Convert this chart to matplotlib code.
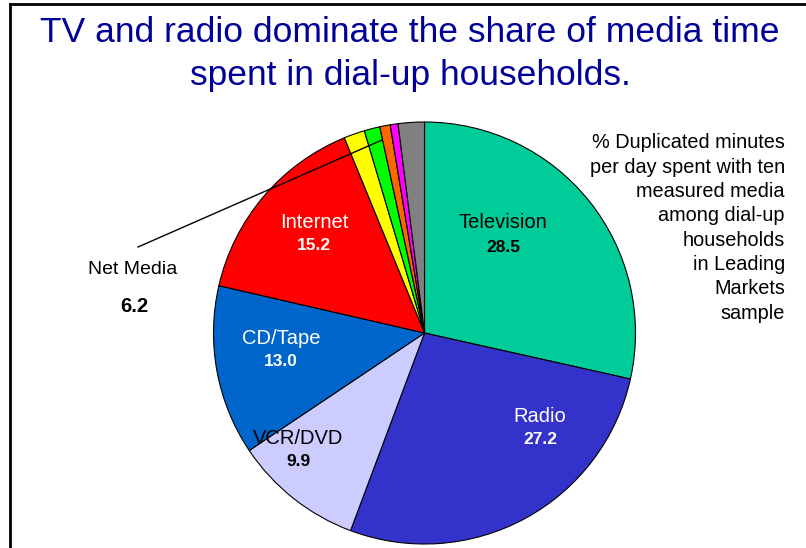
import matplotlib.pyplot as plt

plt.rcParams['font.family'] = ['Liberation Sans', 'DejaVu Sans']

# data
media = ['Television', 'Radio', 'VCR/DVD', 'CD/Tape', 'Internet',
         'Other 1', 'Other 2', 'Other 3', 'Other 4', 'Other 5']
share = [28.5, 27.2, 9.9, 13.0, 15.2, 1.6, 1.2, 0.8, 0.6, 2.0]
colors = ['#00CC99', '#3333CC', '#CCCCFF', '#0066CC', '#FF0000',
          '#FFFF00', '#00FF00', '#FF6600', '#FF00FF', '#808080']
net_media = 6.2

W, H = 806, 548
fig = plt.figure(figsize=(W / 100, H / 100), dpi=100)
ax = fig.add_axes([0, 0, 1, 1])

def Y(y):
    # pixel row from top -> data y
    return H - y

ax.pie(share, colors=colors, startangle=90, counterclock=False,
       center=(424.5, Y(333)), radius=211,
       wedgeprops=dict(edgecolor='black', linewidth=0.8))
ax.set_xlim(0, W)
ax.set_ylim(0, H)
ax.set_aspect('equal')
ax.axis('off')

# frame
ax.plot([10, 10], [Y(4), 0], color='black', lw=2, clip_on=False)
ax.plot([10, W], [Y(4), Y(4)], color='black', lw=2, clip_on=False)

# title
ax.text(410, Y(33), 'TV and radio dominate the share of media time',
        ha='center', va='center', fontsize=25.5, color='#000099')
ax.text(410, Y(75), 'spent in dial-up households.',
        ha='center', va='center', fontsize=25.5, color='#000099')

# slice labels
labels = [
    (503, 222, 247, media[0], share[0], 'black'),
    (540, 416, 440, media[1], share[1], 'white'),
    (298, 438, 462, media[2], share[2], 'black'),
    (281, 338, 362, media[3], share[3], 'white'),
    (314, 222, 245, media[4], share[4], 'white'),
]
for x, y1, y2, name, val, c in labels:
    ax.text(x, Y(y1), name, ha='center', va='center', fontsize=14.5, color=c)
    ax.text(x, Y(y2), f'{val:.1f}', ha='center', va='center', fontsize=12.5,
            fontweight='bold', color=c)

# net media
ax.plot([138, 382], [Y(247), Y(140)], color='black', lw=1)
ax.text(133, Y(270), 'Net Media', ha='center', va='center', fontsize=14)
ax.text(134, Y(306), f'{net_media:.1f}', ha='center', va='center',
        fontsize=14.5, fontweight='bold')

# note
note = ['% Duplicated minutes', 'per day spent with ten', 'measured media',
        'among dial-up', 'households', 'in Leading', 'Markets', 'sample']
for i, line in enumerate(note):
    ax.text(785, Y(143 + i * 24.3), line, ha='right', va='center', fontsize=14.3)

fig.savefig('out.png', dpi=100)
